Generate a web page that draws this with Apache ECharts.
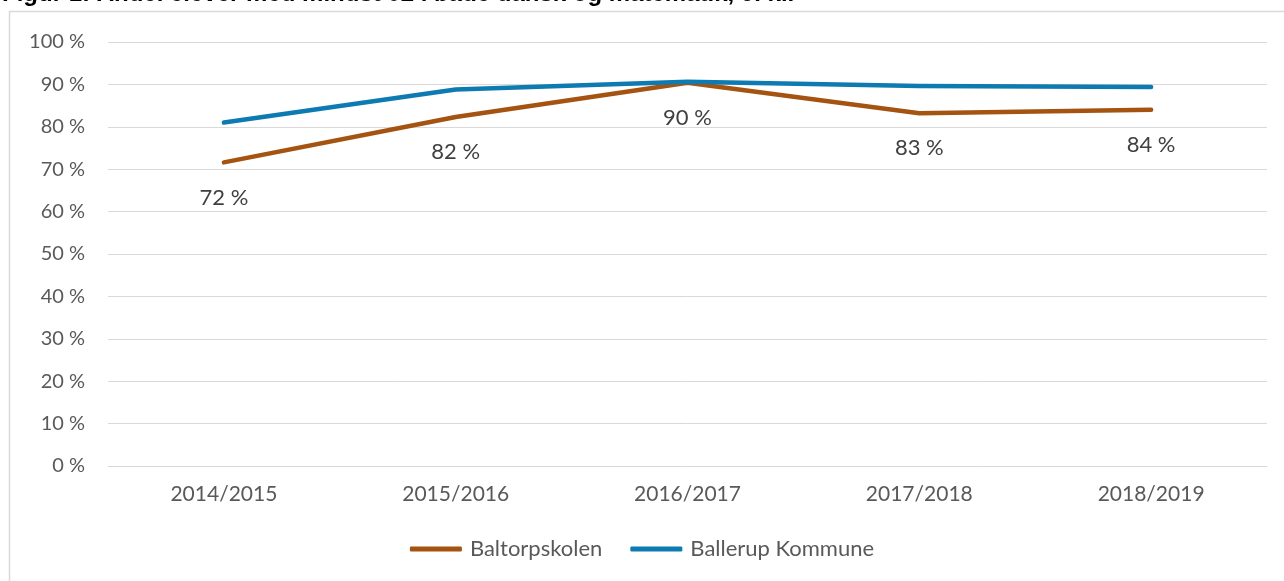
<!DOCTYPE html>
<html><head><meta charset="utf-8">
<script src="https://cdn.jsdelivr.net/npm/echarts@6/dist/echarts.min.js"></script>
<style>html,body{margin:0;padding:0;background:#fff}#c{width:1284px;height:581px}</style>
</head><body><div id="c"></div>
<script>
const categories = ['2014/2015','2015/2016','2016/2017','2017/2018','2018/2019'];
const baltorp = [71.6, 82.3, 90.4, 83.2, 84.0];
const ballerup = [81.0, 88.8, 90.6, 89.6, 89.4];
const yTicks = [0,10,20,30,40,50,60,70,80,90,100];
const titleText = 'Figur 1: Andel elever med mindst 02 i både dansk og matematik, 9. kl.';

const chart = echarts.init(document.getElementById('c'), null, {renderer:'canvas'});
const font = 'Lato, "Open Sans", sans-serif';
chart.setOption({
  animation:false,
  backgroundColor:'#fff',
  graphic:[
    {type:'text', left:2, top:-18, style:{text:titleText, font:'bold 24px "Liberation Sans", Arial, sans-serif', fill:'#000'}},
    {type:'rect', shape:{x:9.5, y:11.5, width:1290, height:600}, style:{fill:null, stroke:'#d9d9d9', lineWidth:1.5}, silent:true}
  ],
  grid:{left:108, right:17, top:42, bottom:115, containLabel:false},
  legend:{
    bottom:16, left:'center', itemWidth:52, itemHeight:5, itemGap:28,
    icon:'roundRect',
    textStyle:{fontFamily:font, fontSize:22, color:'#595959', padding:[0,0,0,3]},
    data:['Baltorpskolen','Ballerup Kommune']
  },
  xAxis:{
    type:'category', data:categories, boundaryGap:true,
    axisLine:{show:true, lineStyle:{color:'#d9d9d9', width:1}},
    axisTick:{show:false},
    axisLabel:{fontFamily:font, fontSize:21, color:'#595959', margin:18}
  },
  yAxis:{
    type:'value', min:0, max:100, interval:10,
    axisLine:{show:false}, axisTick:{show:false},
    splitLine:{lineStyle:{color:'#d9d9d9', width:1}},
    axisLabel:{fontFamily:font, fontSize:20, color:'#595959', margin:23,
      formatter:v=>yTicks.includes(v)? v+' %':''}
  },
  series:[
    {name:'Baltorpskolen', type:'line', data:baltorp, symbol:'circle', symbolSize:0.01, showSymbol:true,
     lineStyle:{width:4.5, color:'#A55311', cap:'round', join:'round'}, itemStyle:{color:'#A55311'},
     label:{show:true, position:'bottom', distance:24, fontFamily:font, fontSize:22, color:'#404040',
       formatter:p=>Math.round(p.value)+' %'}, z:2},
    {name:'Ballerup Kommune', type:'line', data:ballerup, symbol:'none',
     lineStyle:{width:4.5, color:'#0E7AB2', cap:'round', join:'round'}, itemStyle:{color:'#0E7AB2'}, z:3}
  ]
});
</script></body></html>
